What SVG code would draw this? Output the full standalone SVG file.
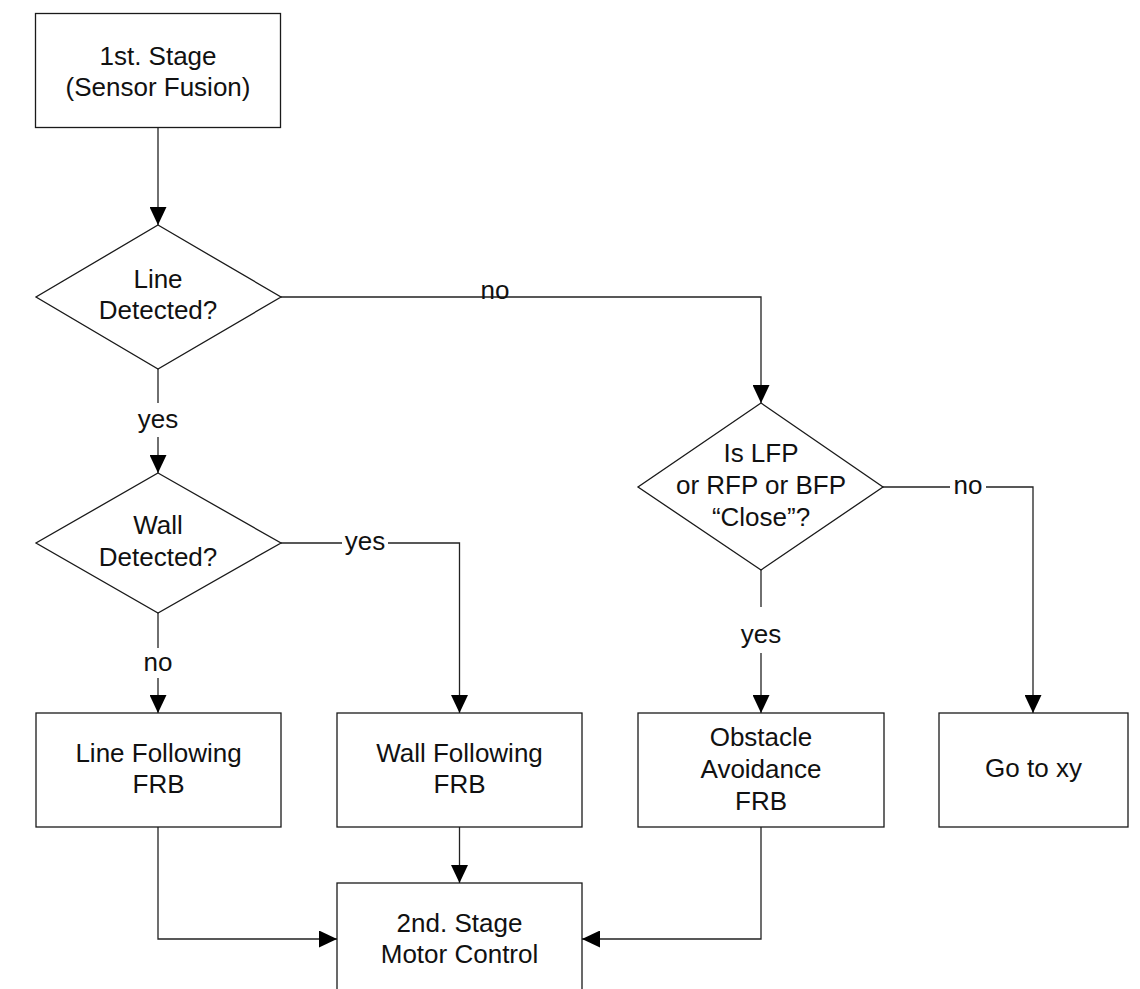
<svg xmlns="http://www.w3.org/2000/svg" width="1140" height="989" viewBox="0 0 1140 989">
<defs>
<style>
.box{fill:#fff;stroke:#1a1a1a;stroke-width:1.3}
.t{font-family:"Liberation Sans",Arial,sans-serif;font-size:26px;fill:#111;text-anchor:middle}
.c{fill:none;stroke:#222;stroke-width:1.3}
.gap{fill:#fff;stroke:none}
</style>
<marker id="ah" markerUnits="userSpaceOnUse" markerWidth="18" markerHeight="17" refX="18" refY="8.5" orient="auto">
<path d="M0,0 L18,8.5 L0,17 Z" fill="#000"/>
</marker>
</defs>
<rect width="1140" height="989" fill="#fff"/>
<g id="connectors">
<path class="c" d="M158,127 V225" marker-end="url(#ah)"/>
<path class="c" d="M281,297 H761 V403" marker-end="url(#ah)"/>
<path class="c" d="M158,369 V473" marker-end="url(#ah)"/>
<path class="c" d="M281,543 H459.5 V713" marker-end="url(#ah)"/>
<path class="c" d="M158,613 V713" marker-end="url(#ah)"/>
<path class="c" d="M883,487 H1033 V713" marker-end="url(#ah)"/>
<path class="c" d="M761,570 V713" marker-end="url(#ah)"/>
<path class="c" d="M158,827 V939 H337" marker-end="url(#ah)"/>
<path class="c" d="M459.5,827 V883" marker-end="url(#ah)"/>
<path class="c" d="M761,827 V939 H582" marker-end="url(#ah)"/>
<rect class="gap" x="478" y="282" width="33" height="14"/>
<text class="t" x="495" y="299">no</text>
<rect class="gap" x="144" y="403" width="28" height="34"/>
<text class="t" x="158" y="428">yes</text>
<rect class="gap" x="342" y="530" width="46" height="26"/>
<text class="t" x="365" y="550">yes</text>
<rect class="gap" x="145" y="648" width="26" height="30"/>
<text class="t" x="158" y="671">no</text>
<rect class="gap" x="950" y="474" width="36" height="26"/>
<text class="t" x="968" y="494">no</text>
<rect class="gap" x="747" y="607" width="28" height="46"/>
<text class="t" x="761" y="643">yes</text>
</g>
<g id="n1">
<rect class="box" x="35.5" y="13.5" width="245" height="114"/>
<text class="t" x="158" y="65">1st. Stage</text>
<text class="t" x="158" y="96">(Sensor Fusion)</text>
</g>
<g id="d1">
<polygon class="box" points="158,225 281,297 158,369 36,297"/>
<text class="t" x="158" y="288">Line</text>
<text class="t" x="158" y="319">Detected?</text>
</g>
<g id="d2">
<polygon class="box" points="158,473 281,543 158,613 36,543"/>
<text class="t" x="158" y="534">Wall</text>
<text class="t" x="158" y="566">Detected?</text>
</g>
<g id="d3">
<polygon class="box" points="761,403 883,487 761,570 638,487"/>
<text class="t" x="761" y="462">Is LFP</text>
<text class="t" x="761" y="494">or RFP or BFP</text>
<text class="t" x="761" y="526">“Close”?</text>
</g>
<g id="lf">
<rect class="box" x="36" y="713" width="245" height="114"/>
<text class="t" x="158.5" y="762">Line Following</text>
<text class="t" x="158.5" y="793">FRB</text>
</g>
<g id="wf">
<rect class="box" x="337" y="713" width="245" height="114"/>
<text class="t" x="459.5" y="762">Wall Following</text>
<text class="t" x="459.5" y="793">FRB</text>
</g>
<g id="oa">
<rect class="box" x="638" y="713" width="246" height="114"/>
<text class="t" x="761" y="746">Obstacle</text>
<text class="t" x="761" y="778">Avoidance</text>
<text class="t" x="761" y="810">FRB</text>
</g>
<g id="gx">
<rect class="box" x="939" y="713" width="189" height="114"/>
<text class="t" x="1033.5" y="777">Go to xy</text>
</g>
<g id="mc">
<rect class="box" x="337" y="883" width="245" height="130"/>
<text class="t" x="459.5" y="932">2nd. Stage</text>
<text class="t" x="459.5" y="963">Motor Control</text>
</g>
</svg>
